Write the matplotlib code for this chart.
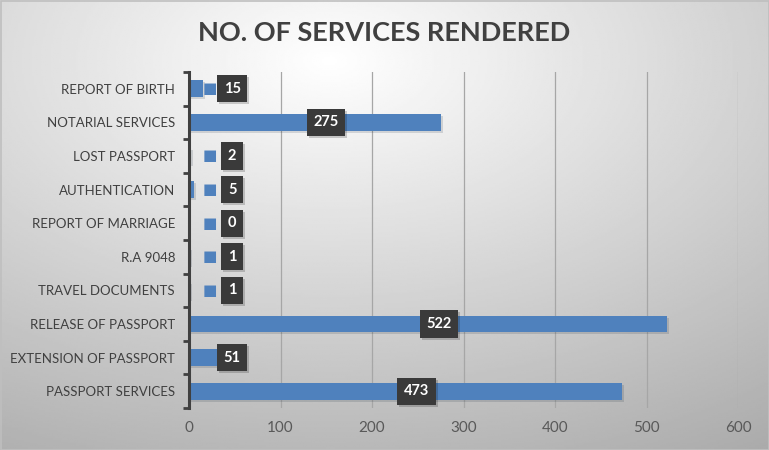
import numpy as np
import matplotlib.pyplot as plt
import matplotlib.patheffects as pe

# Data (bottom to top, as Excel stores it)
services = ["PASSPORT SERVICES", "EXTENSION OF PASSPORT", "RELEASE OF PASSPORT",
            "TRAVEL DOCUMENTS", "R.A 9048", "REPORT OF MARRIAGE", "AUTHENTICATION",
            "LOST PASSPORT", "NOTARIAL SERVICES", "REPORT OF BIRTH"]
counts = [473, 51, 522, 1, 1, 0, 5, 2, 275, 15]
x_ticks = [0, 100, 200, 300, 400, 500, 600]

bar_color = "#4F81BD"
plt.rcParams['font.family'] = ['Lato', 'DejaVu Sans']

fig = plt.figure(figsize=(7.69, 4.5), dpi=100)

# Radial gradient background
bg = fig.add_axes([0, 0, 1, 1], zorder=-10)
gx, gy = np.meshgrid(np.linspace(0, 769, 400), np.linspace(0, 450, 240))
d = np.sqrt(((gx - 330) / 769) ** 2 + ((gy - 60) / 450) ** 2)
shade = np.clip(1.0 - 0.32 * d, 0, 1)
bg.imshow(shade, cmap="gray", vmin=0, vmax=1, extent=[0, 769, 450, 0], aspect="auto")
bg.set_xlim(0, 769)
bg.set_ylim(450, 0)
bg.axis("off")
bg.add_patch(plt.Rectangle((0.5, 0.5), 768, 449, fill=False, ec="#bfbfbf", lw=1.2))

ax = fig.add_axes([189 / 769, 1 - 408 / 450, 549 / 769, 336 / 450])
ax.patch.set_alpha(0)

y = np.arange(len(services))
ax.barh(y, counts, height=0.5, color=bar_color, zorder=3,
        path_effects=[pe.SimplePatchShadow(offset=(1.5, -1.5), alpha=0.15), pe.Normal()])

ax.set_xlim(0, 600)
ax.set_ylim(-0.5, len(services) - 0.5)
ax.set_xticks(x_ticks)
ax.set_yticks(y)
ax.set_yticklabels(services)
ax.set_yticks(np.arange(-0.5, len(services)), minor=True)
ax.grid(axis="x", color="#a6a6a6", lw=0.9, zorder=0)

for s in ["top", "right", "bottom"]:
    ax.spines[s].set_visible(False)
ax.spines["left"].set_color("#404040")
ax.spines["left"].set_linewidth(2.2)
ax.spines["left"].set_zorder(5)

ax.tick_params(axis="x", length=0, pad=9, labelsize=11, labelcolor="#595959")
ax.tick_params(axis="y", which="major", length=0, pad=10, labelsize=9.5, labelcolor="#404040")
ax.tick_params(axis="y", which="minor", length=4, width=2, color="#404040", direction="out")

# Data callouts: legend key + dark label box
for yi, v in zip(y, counts):
    anchor = max(v / 2, 35)
    ax.annotate("\u25A0", xy=(anchor, yi), xytext=(-8, 0), textcoords="offset points",
                ha="center", va="center", fontsize=11, color=bar_color, zorder=6,
                family="DejaVu Sans")
    # shadow
    ax.annotate(str(v), xy=(anchor, yi), xytext=(9.4, -1.4), textcoords="offset points",
                ha="center", va="center", fontsize=10.5, fontweight="bold", color="white",
                alpha=0.0, zorder=6,
                bbox=dict(boxstyle="square,pad=0.45", fc="#000000", ec="none", alpha=0.18))
    ax.annotate(str(v), xy=(anchor, yi), xytext=(8, 0), textcoords="offset points",
                ha="center", va="center", fontsize=10.5, fontweight="bold", color="white",
                zorder=7,
                bbox=dict(boxstyle="square,pad=0.45", fc="#3a3a3a", ec="none"))

fig.text(384 / 769, 1 - 33 / 450, "NO. OF SERVICES RENDERED", ha="center", va="center",
         fontsize=19.5, fontweight="bold", color="#404040")

fig.savefig("out.png", dpi=100)
